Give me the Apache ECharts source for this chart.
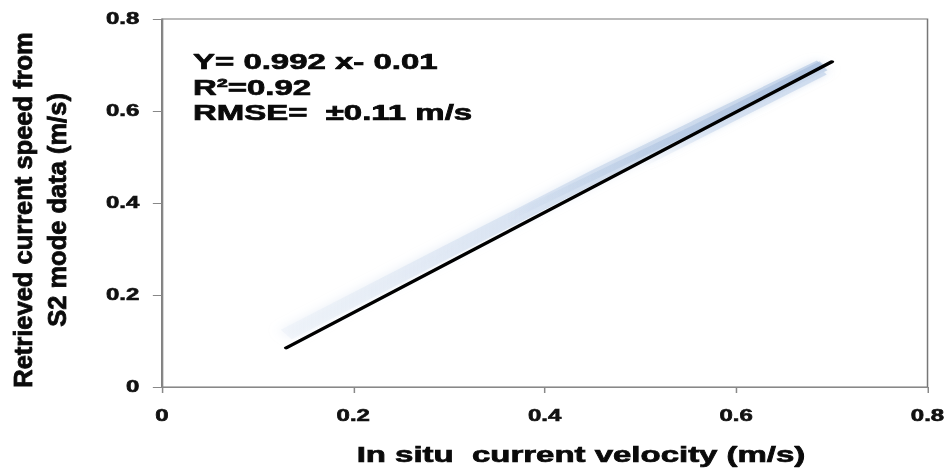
<!DOCTYPE html>
<html>
<head>
<meta charset="utf-8">
<script src="https://cdn.jsdelivr.net/npm/echarts@6/dist/echarts.min.js"></script>
<style>
html,body{margin:0;padding:0;background:#fff;overflow:hidden;}
#wrap{width:950px;height:470px;overflow:hidden;}
#chart{width:634px;height:470px;transform:scaleX(1.49842);transform-origin:0 0;}
</style>
</head>
<body>
<div id="wrap"><div id="chart"></div></div>
<script>
// ---- data ----
var xTickLabels = ['0', '0.2', '0.4', '0.6', '0.8'];
var yTickLabels = ['0', '0.2', '0.4', '0.6', '0.8'];
var fitX = [0.13, 0.70];
var fitY = [0.085, 0.707];
var bandX = [0.13, 0.30, 0.46, 0.56, 0.69];
var bandY = [0.114, 0.296, 0.466, 0.568, 0.699];
var bandCoreX = [0.36, 0.56, 0.69];
var bandCoreY = [0.366, 0.566, 0.703];
var bandLowX = [0.50, 0.58, 0.69];
var bandLowY = [0.488, 0.572, 0.688];
var xTitle = 'In situ\u00a0 current velocity (m/s)';
var yTitle = ['Retrieved current speed from', 'S2 mode data (m/s)'];
var noteLines = ['Y= 0.992 x- 0.01', 'R\u00b2=0.92', 'RMSE=\u00a0 \u00b10.11 m/s'];

function pairs(xs, ys) { return xs.map(function (x, i) { return [x, ys[i]]; }); }

var S = 950 / 634;
var FF = "'Liberation Sans', Arial, sans-serif";
var chart = echarts.init(document.getElementById('chart'), null, {renderer: 'svg'});

function txt(x, y, text, size, extra) {
  var o = {type: 'text', x: x, y: y, silent: true,
    style: {text: text, font: 'bold ' + size + 'px ' + FF, fill: '#0a0a0a',
      stroke: '#0a0a0a', lineWidth: 0.7,
      textAlign: 'left', textVerticalAlign: 'middle'}};
  if (extra) { for (var k in extra) { if (k === 'style') { for (var s in extra.style) o.style[s] = extra.style[s]; } else o[k] = extra[k]; } }
  return o;
}

var labelStyle = {color: '#111', fontFamily: FF, fontWeight: 'bold', fontSize: 16,
  textBorderColor: '#111', textBorderWidth: 0.6};

var option = {
  animation: false,
  backgroundColor: '#fff',
  grid: {left: 108, right: 15, top: 19, bottom: 83, show: true, borderColor: '#777', borderWidth: 1, backgroundColor: 'transparent'},
  xAxis: {
    type: 'value', min: 0, max: 0.8, interval: 0.2,
    splitLine: {show: false},
    axisLine: {show: true, lineStyle: {color: '#888', width: 1}},
    axisTick: {show: true, inside: false, length: 6, lineStyle: {color: '#888'}},
    axisLabel: Object.assign({margin: 20,
      formatter: function (v) { return xTickLabels[Math.round(v / 0.2)]; }}, labelStyle)
  },
  yAxis: {
    type: 'value', min: 0, max: 0.8, interval: 0.2,
    splitLine: {show: false},
    axisLine: {show: true, lineStyle: {color: '#888', width: 1}},
    axisTick: {show: true, inside: false, length: 6, lineStyle: {color: '#888'}},
    axisLabel: Object.assign({margin: 15,
      formatter: function (v) { return yTickLabels[Math.round(v / 0.2)]; }}, labelStyle)
  },
  graphic: [
    txt(26.7, 210, yTitle.join('\n'), 25.5, {rotation: Math.PI / 2, scaleY: 1 / S,
      style: {textAlign: 'center', lineHeight: 35, lineWidth: 0.8}}),
    txt(581 / S, 455, xTitle, 22, {style: {textAlign: 'center'}}),
    txt(128.8, 62, noteLines[0], 22),
    txt(128.8, 88, noteLines[1], 22),
    txt(128.8, 113, noteLines[2], 22)
  ],
  series: [
    {type: 'line', data: pairs(bandX, bandY), symbol: 'none', silent: true, z: 1,
      lineStyle: {width: 12, cap: 'butt',
        color: new echarts.graphic.LinearGradient(0, 0, 1, 0, [
          {offset: 0, color: 'rgba(236,241,248,0.6)'},
          {offset: 0.45, color: 'rgba(212,224,240,0.85)'},
          {offset: 1, color: 'rgba(195,211,233,0.9)'}
        ]),
        shadowBlur: 10, shadowColor: 'rgba(215,226,241,0.8)'}},
    {type: 'line', data: pairs(bandCoreX, bandCoreY), symbol: 'none', silent: true, z: 2,
      lineStyle: {width: 6, cap: 'butt',
        color: new echarts.graphic.LinearGradient(0, 0, 1, 0, [
          {offset: 0, color: 'rgba(165,188,220,0)'},
          {offset: 0.5, color: 'rgba(165,188,220,0.45)'},
          {offset: 1, color: 'rgba(160,184,218,0.6)'}
        ]),
        shadowBlur: 6, shadowColor: 'rgba(170,192,222,0.4)'}},
    {type: 'line', data: pairs(bandLowX, bandLowY), symbol: 'none', silent: true, z: 1,
      lineStyle: {width: 10, cap: 'butt',
        color: new echarts.graphic.LinearGradient(0, 0, 1, 0, [
          {offset: 0, color: 'rgba(205,219,238,0)'},
          {offset: 0.4, color: 'rgba(205,219,238,0.7)'},
          {offset: 1, color: 'rgba(200,215,236,0.8)'}
        ]),
        shadowBlur: 6, shadowColor: 'rgba(205,219,238,0.5)'}},
    {type: 'line', data: pairs(fitX, fitY), symbol: 'none', silent: true, z: 3,
      lineStyle: {width: 3, color: '#000', cap: 'round'}}
  ]
};
chart.setOption(option);
</script>
</body>
</html>
